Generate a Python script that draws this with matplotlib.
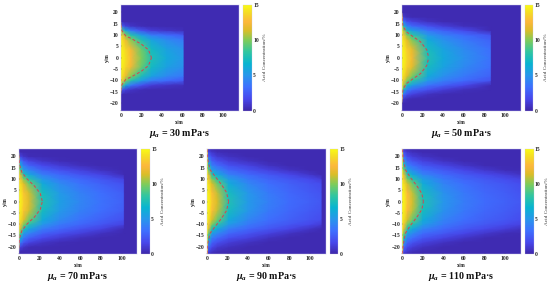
import numpy as np
import matplotlib
matplotlib.use("Agg")
import matplotlib.pyplot as plt
from matplotlib.colors import LinearSegmentedColormap

plt.rcParams['font.family'] = ['Liberation Serif', 'DejaVu Serif']
plt.rcParams['mathtext.fontset'] = 'custom'
plt.rcParams['mathtext.rm'] = 'Liberation Serif:bold'
plt.rcParams['mathtext.it'] = 'Liberation Serif:italic:bold'
plt.rcParams['mathtext.bf'] = 'Liberation Serif:bold'

PARULA_POS = [0, .111, .222, .333, .444, .556, .667, .76, .84, .92, 1]
PARULA = [(.2422,.1504,.6603),(.2803,.2782,.9221),(.2440,.4358,.9988),(.1540,.5902,.9218),
          (.0297,.7082,.8163),(.1938,.7765,.6261),(.5044,.7993,.3480),(.8634,.7406,.1596),
          (.9900,.7200,.2300),(.9600,.8500,.1500),(.9769,.9839,.0805)]
cmap = LinearSegmentedColormap.from_list('parula_like', list(zip(PARULA_POS, PARULA)), N=256)

BG = 0.25
Y_ST = [0, 4, 8, 10, 12, 14, 16, 18, 20, 22, 23.3]
XMAX = 115.3
YMAX = 23.3

titles = ['30', '50', '70', '90', '110']

x30 = [0, 1.5, 5, 10, 20, 30, 45, 61, 62, XMAX]
c30 = [[15,15,15,15,15,14],
       [14.7,14.5,14,13,9,2.5],
       [14,13.6,12,10,6,1.3],
       [12.7,12.2,10,7.8,3.8,.8],
       [10,9.5,7.6,5.5,2.2,.4],
       [7.7,7.2,5.7,3.9,1.2],
       [6,5.6,4.5,3.2,.8],
       [5,4.7,3.7,2.5,.5],
       [], []]
x50 = [0, 1.5, 5, 10, 25, 40, 60, 86, 87, XMAX]
c50 = [[15,15,15,15,15,15,15,13],
       [14.7,14.5,14,13,11,7,3.5,1],
       [13.7,13.3,11.5,10,7,4,2,.5],
       [12.2,11.7,9.8,8.2,5.5,3,1.4,.3],
       [7.7,7.3,6.1,5.1,3.6,2,.6],
       [6,5.7,4.8,4,2.8,1.2,.3],
       [4.8,4.5,3.8,3.2,1.8,.5],
       [3.5,3.3,2.8,2.2,.3],
       [], []]
x70 = [0, 1.5, 5, 10, 23, 40, 60, 80, 102, 103, XMAX]
c70 = [[15,15,15,15,15,15,15,15,14],
       [14.7,14.5,14,13,11.5,9,6.5,4,1.5],
       [13.4,13,11.5,10,7.5,5.2,3.7,2.3,.8],
       [11.6,11.2,9.6,8,5.9,4.2,2.8,1.5,.4],
       [7.7,7.3,6.1,5.1,3.9,2.8,1.7,.8,.3],
       [5.5,5.2,4.5,3.8,3,2,1.1,.4],
       [4.3,4.1,3.5,3,2.2,1.3,.5],
       [3.5,3.3,2.8,2.3,1.5,.6],
       [2.8,2.6,2.1,1.5,.4],
       [], []]
x90 = [0, 1.5, 5, 10, 21, 40, 60, 80, 100, 111, 112, XMAX]
c90 = [[15,15,15,15,15,15,15,15,15,15,14],
       [14.7,14.5,14,13,11.8,9.5,7,5,3,1.5,.6],
       [13.2,12.8,11.3,9.8,7.5,5.4,3.9,2.7,1.7,.8,.3],
       [11.4,11,9.5,8,6,4.4,3.1,2,1,.4],
       [7.7,7.3,6.1,5.3,4,3,2.1,1.2,.6],
       [5.2,5,4.3,3.8,3,2.2,1.4,.6],
       [4,3.8,3.3,2.9,2.3,1.4,.6],
       [3.2,3,2.7,2.3,1.6,.7],
       [2.7,2.5,2.2,1.7,.8],
       [2.4,2.2,1.9,1.2,.3],
       [], []]
x110 = [0, 1.5, 5, 10, 20, 40, 60, 80, 100, XMAX]
c110 = [[15,15,15,15,15,15,15,15,15,15,15],
        [14.7,14.5,14,13,12,9.8,7.3,5.2,3.2,1.7,.7],
        [13,12.6,11.2,9.7,7.6,5.6,4.1,2.9,1.8,.9,.4],
        [11.3,10.9,9.4,7.9,6,4.5,3.3,2.2,1.2,.5],
        [7.7,7.3,6.2,5.4,4.2,3.2,2.3,1.4,.7],
        [5,4.8,4.2,3.8,3.1,2.4,1.5,.7],
        [3.9,3.7,3.3,2.9,2.4,1.6,.8],
        [3.2,3,2.7,2.4,1.8,.9,.3],
        [2.8,2.6,2.3,1.9,1.2,.4],
        [2.4,2.2,1.9,1.5,.7,.3]]

# half of the dashed contour: x position and |y|
dx30 = [0, 1, 5, 10, 20, 27, 30]
dy30 = [14.5, 12, 9.5, 8.5, 6, 3.5, 0]
dx50 = [0, 1, 4, 10, 18, 24, 26]
dy50 = [17.5, 14, 11.5, 9.5, 7, 3.5, 0]
dx70 = [0, 1, 3, 8, 15, 21, 23]
dy70 = [20.5, 16, 13, 10, 7, 3.5, 0]
dx90 = [0, 1, 3, 8, 14, 19, 21]
dy90 = [23, 18, 14, 11, 7.5, 4, 0]
dx110 = [0, 1, 3, 8, 14, 19, 20.5]
dy110 = [23, 19, 14, 10.5, 7, 3.5, 0]

# pixel layout (left, right, top, bottom, colorbar left, colorbar right)
PANELS = [(120.7, 239, 4.7, 110.7, 243, 252, x30, c30, dx30, dy30),
          (402, 520.7, 4.7, 110.7, 524.7, 533.3, x50, c50, dx50, dy50),
          (18.7, 137.3, 148.7, 254.3, 141.3, 150, x70, c70, dx70, dy70),
          (207, 325.7, 148.7, 254.3, 329.7, 338.3, x90, c90, dx90, dy90),
          (402.3, 521, 148.7, 254.3, 525, 533.7, x110, c110, dx110, dy110)]

W, H = 550, 285
fig = plt.figure(figsize=(W/100, H/100), dpi=100)
TXT = '#222222'
FS = 4.0
LAB = dict(fontsize=FS, fontweight='bold', color=TXT)

for (l, r, t, b, cl, cr, xs, table, dx, dy), mu in zip(PANELS, titles):
    ax = fig.add_axes([l/W, 1-b/H, (r-l)/W, (b-t)/H])
    half = np.array([row + [BG]*(len(Y_ST)-len(row)) for row in table], float)
    z = np.hstack([half[:, :0:-1], half])
    ys = np.r_[-np.array(Y_ST[:0:-1]), Y_ST]
    mesh = ax.pcolormesh(xs, ys, z.T, cmap=cmap, vmin=0, vmax=15,
                         shading='gouraud', rasterized=True)
    ax.plot(dx, dy, color='#d9434e', lw=0.7, ls=(0, (3, 2.2)))
    ax.plot(dx, -np.array(dy), color='#d9434e', lw=0.7, ls=(0, (3, 2.2)))
    ax.set_xlim(0, XMAX)
    ax.set_ylim(-YMAX, YMAX)
    ax.set_xticks(range(0, 101, 20))
    ax.set_yticks(range(-20, 21, 5))
    ax.tick_params(length=0.8, width=0.2, pad=1.5, labelsize=FS, colors=TXT, direction='in')
    for lab in ax.get_xticklabels() + ax.get_yticklabels():
        lab.set_fontweight('bold')
    for s in ax.spines.values():
        s.set_linewidth(0.3)
        s.set_color('#c9c6e6')
    fig.text((l+r)/2/W, 1-(b+11.5)/H, 'x/m', ha='center', va='center', **LAB)
    fig.text((l-13.5)/W, 1-(t+b)/2/H, 'y/m', ha='center', va='center', rotation=90, **LAB)
    cax = fig.add_axes([cl/W, 1-b/H, (cr-cl)/W, (b-t)/H])
    cb = fig.colorbar(mesh, cax=cax)
    cb.set_ticks([0, 5, 10, 15])
    cb.ax.tick_params(length=0, pad=0.8, labelsize=FS, colors=TXT)
    for lab in cb.ax.get_yticklabels():
        lab.set_fontweight('bold')
    cb.outline.set_linewidth(0.2)
    cb.outline.set_edgecolor('#c9c6e6')
    fig.text((cr+13)/W, 1-(t+b)/2/H, 'Acid Concentration/%', ha='center', va='center',
             rotation=90, fontsize=3.8, color='#333333')
    fig.text((l+r)/2/W, 1-(b+22.5)/H, r'$\mu_a$ = ' + mu + ' mPa·s', ha='center', va='center',
             fontsize=7.2, fontweight='bold', color='#111111')

fig.savefig('out.png', dpi=100)
